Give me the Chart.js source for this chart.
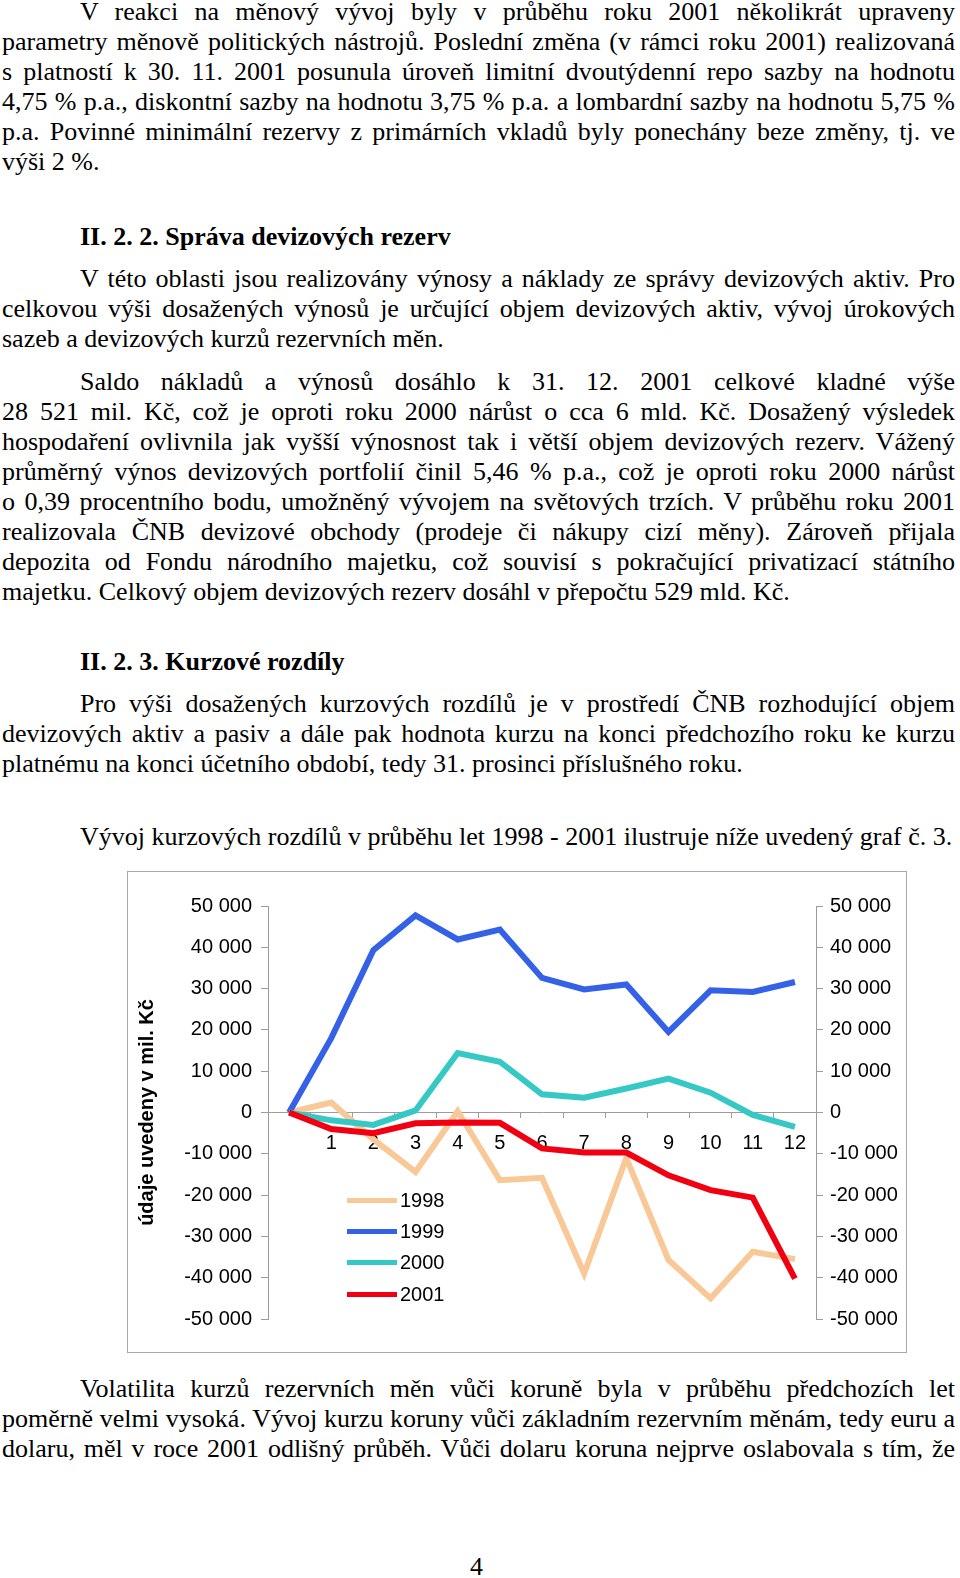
<!DOCTYPE html>
<html lang="cs">
<head>
<meta charset="utf-8">
<title>Vývoj kurzových rozdílů</title>
<script src="https://cdn.jsdelivr.net/npm/chart.js@4.4.1/dist/chart.umd.min.js"></script>
<style>
  html, body { margin: 0; padding: 0; background: #fff; }
  body { width: 960px; height: 1578px; position: relative; overflow: hidden;
         font-family: "Liberation Serif", "Times New Roman", serif; font-size: 26px; color: #000; }
  .blk { position: absolute; left: 2px; width: 953px; }
  .l { height: 30px; line-height: 30px; white-space: nowrap; }
  .j { text-align: justify; text-align-last: justify; }
  .ind { padding-left: 78px; }
  .h { position: absolute; left: 80px; font-weight: bold; line-height: 30px; white-space: nowrap; }
  #chartBox { position: absolute; left: 127px; top: 871px; width: 780px; height: 482px;
              border: 1px solid #a8a8a8; box-sizing: border-box; }
  #legend { position: absolute; left: 347px; top: 1185px; font-family: "Liberation Sans", Arial, sans-serif;
            font-size: 20px; color: #000; }
  .li { height: 31.2px; display: flex; align-items: center; }
  .sw { width: 50px; height: 5px; margin-right: 3px; }
  #pg { position: absolute; top: 1552px; left: 0; width: 953px; text-align: center; line-height: 30px; }
</style>
</head>
<body>

<div class="blk" style="top:-3px">
  <div class="l j ind">V reakci na měnový vývoj byly v průběhu roku 2001 několikrát upraveny</div>
  <div class="l j">parametry měnově politických nástrojů. Poslední změna (v rámci roku 2001) realizovaná</div>
  <div class="l j">s platností k 30. 11. 2001 posunula úroveň limitní dvoutýdenní repo sazby na hodnotu</div>
  <div class="l j">4,75 % p.a., diskontní sazby na hodnotu 3,75 % p.a. a lombardní sazby na hodnotu 5,75 %</div>
  <div class="l j">p.a. Povinné minimální rezervy z primárních vkladů byly ponechány beze změny, tj. ve</div>
  <div class="l">výši 2 %.</div>
</div>

<div class="h" style="top:222px">II. 2. 2. Správa devizových rezerv</div>

<div class="blk" style="top:264px">
  <div class="l j ind">V této oblasti jsou realizovány výnosy a náklady ze správy devizových aktiv. Pro</div>
  <div class="l j">celkovou výši dosažených výnosů je určující objem devizových aktiv, vývoj úrokových</div>
  <div class="l">sazeb a devizových kurzů rezervních měn.</div>
</div>

<div class="blk" style="top:367px">
  <div class="l j ind">Saldo nákladů a výnosů dosáhlo k 31. 12. 2001 celkové kladné výše</div>
  <div class="l j">28 521 mil. Kč, což je oproti roku 2000 nárůst o cca 6 mld. Kč. Dosažený výsledek</div>
  <div class="l j">hospodaření ovlivnila jak vyšší výnosnost tak i větší objem devizových rezerv. Vážený</div>
  <div class="l j">průměrný výnos devizových portfolií činil 5,46 % p.a., což je oproti roku 2000 nárůst</div>
  <div class="l j">o 0,39 procentního bodu, umožněný vývojem na světových trzích. V průběhu roku 2001</div>
  <div class="l j">realizovala ČNB devizové obchody (prodeje či nákupy cizí měny). Zároveň přijala</div>
  <div class="l j">depozita od Fondu národního majetku, což souvisí s pokračující privatizací státního</div>
  <div class="l">majetku. Celkový objem devizových rezerv dosáhl v přepočtu 529 mld. Kč.</div>
</div>

<div class="h" style="top:647px">II. 2. 3. Kurzové rozdíly</div>

<div class="blk" style="top:689px">
  <div class="l j ind">Pro výši dosažených kurzových rozdílů je v prostředí ČNB rozhodující objem</div>
  <div class="l j">devizových aktiv a pasiv a dále pak hodnota kurzu na konci předchozího roku ke kurzu</div>
  <div class="l">platnému na konci účetního období, tedy 31. prosinci příslušného roku.</div>
</div>

<div class="blk" style="top:822px">
  <div class="l ind">Vývoj kurzových rozdílů v průběhu let 1998 - 2001 ilustruje níže uvedený graf č. 3.</div>
</div>

<div id="chartBox"><canvas id="kurzChart"></canvas></div>
<div id="legend"></div>

<div class="blk" style="top:1374px">
  <div class="l j ind">Volatilita kurzů rezervních měn vůči koruně byla v průběhu předchozích let</div>
  <div class="l j">poměrně velmi vysoká. Vývoj kurzu koruny vůči základním rezervním měnám, tedy euru a</div>
  <div class="l j">dolaru, měl v roce 2001 odlišný průběh. Vůči dolaru koruna nejprve oslabovala s tím, že</div>
</div>

<div id="pg">4</div>

<script>
// months (first point is the starting zero, unlabeled)
const months = ['', '1', '2', '3', '4', '5', '6', '7', '8', '9', '10', '11', '12'];

// cumulative exchange rate differences, mil. Kč
const rok1998 = [0, 2400, -6500, -14400, 300, -16400, -15800, -39000, -11000, -35700, -45000, -33700, -35500];
const rok1999 = [0, 18000, 39300, 47700, 41900, 44300, 32600, 29800, 31000, 19500, 29600, 29200, 31600];
const rok2000 = [0, -1900, -3000, 500, 14400, 12300, 4400, 3600, 5800, 8200, 4800, -600, -3500];
const rok2001 = [0, -4000, -5000, -2600, -2400, -2500, -8700, -9700, -9700, -15200, -18800, -20600, -40200];

const yMin = -50000;
const yMax = 50000;
const yStep = 10000;

const axisGray = '#9c9c9c';
const font = { family: 'Liberation Sans, Arial, sans-serif', size: 20 };

// "50 000" style labels
function fmt(v) {
  const s = String(Math.abs(v)).replace(/\B(?=(\d{3})+(?!\d))/g, ' ');
  return v < 0 ? '-' + s : s;
}

function line(label, data, color, order) {
  return {
    label: label,
    data: data,
    borderColor: color,
    backgroundColor: color,
    borderWidth: 6,
    pointRadius: 0,
    tension: 0,
    fill: false,
    order: order
  };
}

const ctx = document.getElementById('kurzChart').getContext('2d');
const chart = new Chart(ctx, {
  type: 'line',
  data: {
    labels: months,
    datasets: [
      line('1998', rok1998, '#f8c897', 3),
      line('1999', rok1999, '#3461e6', 2),
      line('2000', rok2000, '#35c8c4', 1),
      line('2001', rok2001, '#f00010', 0)
    ]
  },
  options: {
    responsive: true,
    maintainAspectRatio: false,
    animation: false,
    layout: { padding: { top: 34, bottom: 33, left: 0, right: 0 } },
    plugins: {
      legend: { display: false },
      tooltip: { enabled: false }
    },
    scales: {
      x: {
        type: 'category',
        position: { y: 0 },
        offset: true,
        grid: { offset: true, drawOnChartArea: false, color: axisGray, tickLength: 5 },
        border: { display: true, color: axisGray },
        ticks: { color: '#000', font: font, padding: 14, maxRotation: 0, autoSkip: false }
      },
      y: {
        position: 'left',
        min: yMin,
        max: yMax,
        grid: { drawOnChartArea: false, color: axisGray, tickLength: 7 },
        border: { display: true, color: axisGray },
        ticks: { stepSize: yStep, color: '#000', font: font, padding: 9, callback: fmt },
        title: {
          display: true,
          text: 'údaje uvedeny v mil. Kč',
          color: '#000',
          font: { family: font.family, size: 20, weight: 'bold' },
          padding: { top: 7, bottom: 0 }
        },
        afterFit: (scale) => { scale.width = 140; }
      },
      y2: {
        position: 'right',
        min: yMin,
        max: yMax,
        grid: { drawOnChartArea: false, color: axisGray, tickLength: 7 },
        border: { display: true, color: axisGray },
        ticks: { stepSize: yStep, color: '#000', font: font, padding: 7, callback: fmt },
        afterFit: (scale) => { scale.width = 90; }
      }
    }
  }
});

// legend in the lower left of the plot, built from the chart's own legend items
const items = Chart.defaults.plugins.legend.labels.generateLabels(chart)
  .sort((a, b) => a.datasetIndex - b.datasetIndex);
const legendEl = document.getElementById('legend');
items.forEach(item => {
  const row = document.createElement('div');
  row.className = 'li';
  const sw = document.createElement('span');
  sw.className = 'sw';
  sw.style.background = item.strokeStyle;
  const txt = document.createElement('span');
  txt.textContent = item.text;
  row.appendChild(sw);
  row.appendChild(txt);
  legendEl.appendChild(row);
});
</script>
</body>
</html>
